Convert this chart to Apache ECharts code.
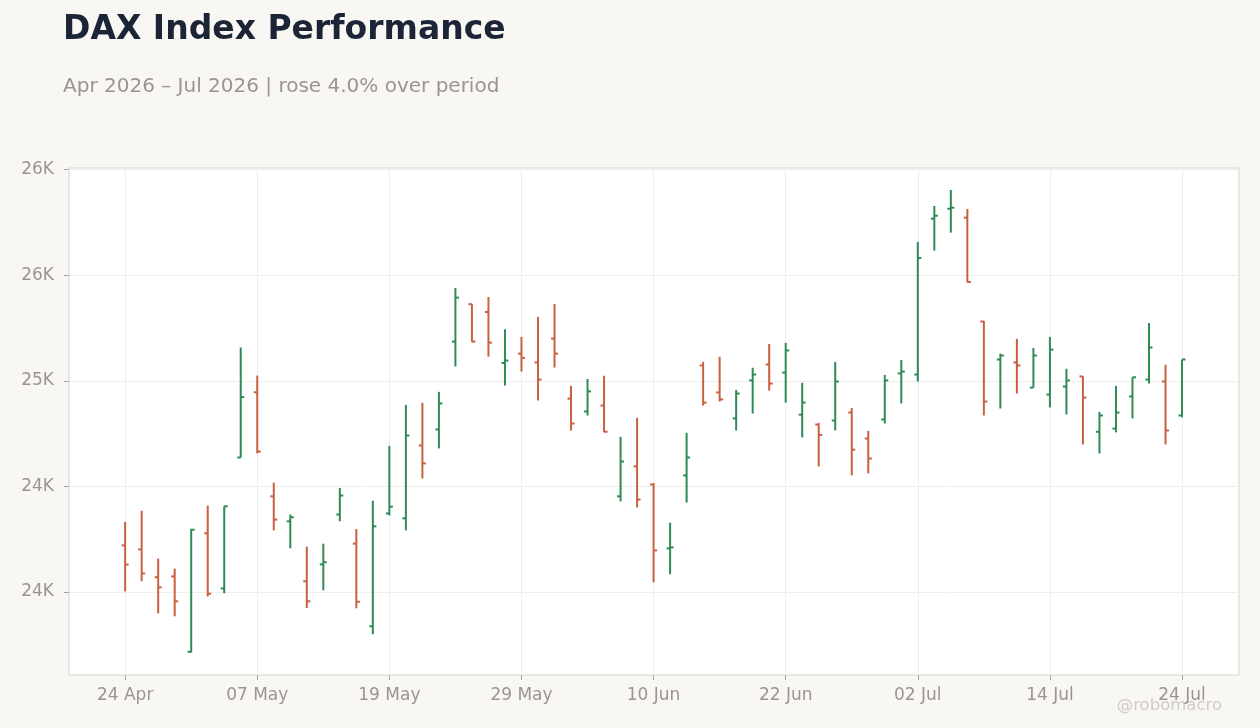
<!DOCTYPE html>
<html>
<head>
<meta charset="utf-8">
<title>DAX Index Performance</title>
<script src="https://cdn.jsdelivr.net/npm/echarts@6/dist/echarts.min.js"></script>
<style>
  html, body { margin: 0; padding: 0; background: #f8f7f4; }
  #chart { width: 1260px; height: 728px; }
</style>
</head>
<body>
<div id="chart"></div>
<script>
// trading days (1 May skipped)
var dates = [
  '24 Apr', '27 Apr', '28 Apr', '29 Apr', '30 Apr', '04 May', '05 May', '06 May',
  '07 May', '08 May', '11 May', '12 May', '13 May', '14 May', '15 May', '18 May',
  '19 May', '20 May', '21 May', '22 May', '25 May', '26 May', '27 May', '28 May',
  '29 May', '01 Jun', '02 Jun', '03 Jun', '04 Jun', '05 Jun', '08 Jun', '09 Jun',
  '10 Jun', '11 Jun', '12 Jun', '15 Jun', '16 Jun', '17 Jun', '18 Jun', '19 Jun',
  '22 Jun', '23 Jun', '24 Jun', '25 Jun', '26 Jun', '29 Jun', '30 Jun', '01 Jul',
  '02 Jul', '03 Jul', '06 Jul', '07 Jul', '08 Jul', '09 Jul', '10 Jul', '13 Jul',
  '14 Jul', '15 Jul', '16 Jul', '17 Jul', '20 Jul', '21 Jul', '22 Jul', '23 Jul',
  '24 Jul'
];
var opens = [
  24221, 24202, 24070, 24074, 23717, 24278, 24017, 24637,
  24946, 24453, 24335, 24051, 24131, 24367, 24229, 23838,
  24372, 24349, 24694, 24770, 25186, 25363, 25326, 25085,
  25129, 25087, 25200, 24916, 24855, 24883, 24453, 24595,
  24509, 24207, 24552, 25073, 24945, 24822, 25002, 25077,
  25039, 24840, 24793, 24812, 24850, 24727, 24817, 25035,
  25030, 25768, 25815, 25773, 25281, 25101, 25087, 24968,
  24935, 24973, 25021, 24759, 24774, 24926, 25006, 24997,
  24836
];
var highs = [
  24332, 24385, 24158, 24111, 24299, 24409, 24406, 25158,
  25025, 24518, 24367, 24215, 24229, 24493, 24298, 24432,
  24692, 24886, 24896, 24948, 25440, 25363, 25397, 25244,
  25208, 25303, 25364, 24976, 25009, 25024, 24735, 24825,
  24516, 24328, 24754, 25090, 25114, 24957, 25062, 25175,
  25180, 24991, 24801, 25090, 24872, 24763, 25028, 25099,
  25658, 25828, 25904, 25814, 25284, 25129, 25199, 25156,
  25208, 25057, 25022, 24853, 24976, 25017, 25274, 25076,
  25101
];
var lows = [
  24003, 24051, 23899, 23885, 23714, 23979, 23994, 24637,
  24657, 24292, 24207, 23924, 24008, 24335, 23923, 23800,
  24363, 24292, 24538, 24680, 25068, 25185, 25115, 24978,
  25044, 24907, 25063, 24765, 24836, 24757, 24429, 24401,
  24046, 24084, 24424, 24883, 24902, 24765, 24845, 24954,
  24897, 24732, 24595, 24765, 24552, 24562, 24798, 24893,
  24997, 25617, 25702, 25467, 24836, 24869, 24940, 24968,
  24874, 24841, 24699, 24656, 24756, 24822, 24987, 24699,
  24827
];
var closes = [
  24130, 24088, 24022, 23956, 24295, 23992, 24406, 24923,
  24665, 24343, 24354, 23956, 24141, 24457, 23954, 24311,
  24404, 24741, 24609, 24893, 25394, 25186, 25181, 25096,
  25109, 25006, 25129, 24798, 24950, 24759, 24618, 24438,
  24197, 24211, 24637, 24897, 24912, 24940, 25030, 24987,
  25144, 24897, 24744, 24997, 24674, 24632, 25002, 25044,
  25582, 25782, 25820, 25468, 24902, 25120, 25073, 25120,
  25148, 25002, 24921, 24836, 24850, 25017, 25158, 24765,
  25101
];
var xTicks = [0, 8, 16, 24, 32, 40, 48, 56, 64];
var yTicks = [24000, 24500, 25000, 25500, 26000];

var UP = '#2e8b57';
var DOWN = '#c9603f';
var LABEL = '#9a958f';
var FONT = 'DejaVu Sans';

// 24.5 -> 24K, 25.5 -> 26K (round half to even)
var kLabel = function (v) {
  var k = v / 1000;
  var f = Math.floor(k);
  var r = Math.round(k);
  if (Math.abs(k - f - 0.5) < 1e-9) {
    r = f % 2 === 0 ? f : f + 1;
  }
  return r + 'K';
};

var ohlc = dates.map(function (d, i) {
  return [i, opens[i], highs[i], lows[i], closes[i]];
});

var chart = echarts.init(document.getElementById('chart'));

chart.setOption({
  backgroundColor: '#f8f7f4',
  animation: false,
  title: {
    text: 'DAX Index Performance',
    subtext: 'Apr 2026 \u2013 Jul 2026 | rose 4.0% over period',
    left: 63,
    top: 14,
    padding: 0,
    itemGap: 30,
    textStyle: { fontFamily: FONT, fontSize: 33, fontWeight: 'bold', color: '#1b2535' },
    subtextStyle: { fontFamily: FONT, fontSize: 20, color: '#9a958f' }
  },
  grid: {
    left: 69, right: 21, top: 168, bottom: 53,
    show: true,
    backgroundColor: '#ffffff',
    borderColor: '#d9d5cf',
    borderWidth: 1
  },
  xAxis: {
    type: 'value',
    min: -3.4,
    max: 67.45,
    axisLine: { show: false, onZero: false },
    axisTick: { show: true, customValues: xTicks, length: 5, lineStyle: { color: '#a9a5a0' } },
    axisLabel: {
      customValues: xTicks,
      margin: 12,
      fontFamily: FONT, fontSize: 17, color: LABEL,
      formatter: function (v) { return dates[v]; }
    },
    splitLine: { show: true, lineStyle: { color: '#eeeeee', width: 1 } }
  },
  yAxis: {
    type: 'value',
    min: 23607,
    max: 26008,
    axisLine: { show: false, onZero: false },
    axisTick: { show: true, customValues: yTicks, length: 5, lineStyle: { color: '#a9a5a0' } },
    axisLabel: {
      customValues: yTicks,
      margin: 15,
      fontFamily: FONT, fontSize: 17, color: LABEL,
      formatter: kLabel
    },
    splitLine: { show: true, lineStyle: { color: '#eeeeee', width: 1 } }
  },
  series: [{
    type: 'custom',
    name: 'DAX',
    data: ohlc,
    encode: { x: 0, y: [1, 2, 3, 4] },
    renderItem: function (params, api) {
      var i = api.value(0);
      var o = api.value(1);
      var c = api.value(4);
      var hi = api.coord([i, api.value(2)]);
      var lo = api.coord([i, api.value(3)]);
      var op = api.coord([i, o]);
      var cl = api.coord([i, c]);
      var style = { stroke: c >= o ? UP : DOWN, lineWidth: 2 };
      return {
        type: 'group',
        children: [
          { type: 'line', shape: { x1: hi[0], y1: hi[1], x2: lo[0], y2: lo[1] }, style: style },
          { type: 'line', shape: { x1: op[0] - 3.5, y1: op[1], x2: op[0], y2: op[1] }, style: style },
          { type: 'line', shape: { x1: cl[0], y1: cl[1], x2: cl[0] + 3.5, y2: cl[1] }, style: style }
        ]
      };
    }
  }],
  graphic: [{
    type: 'text',
    right: 38,
    top: 697,
    style: { text: '@robomacro', fontFamily: FONT, fontSize: 16.5, fill: '#cfccc8' }
  }]
});
</script>
</body>
</html>
